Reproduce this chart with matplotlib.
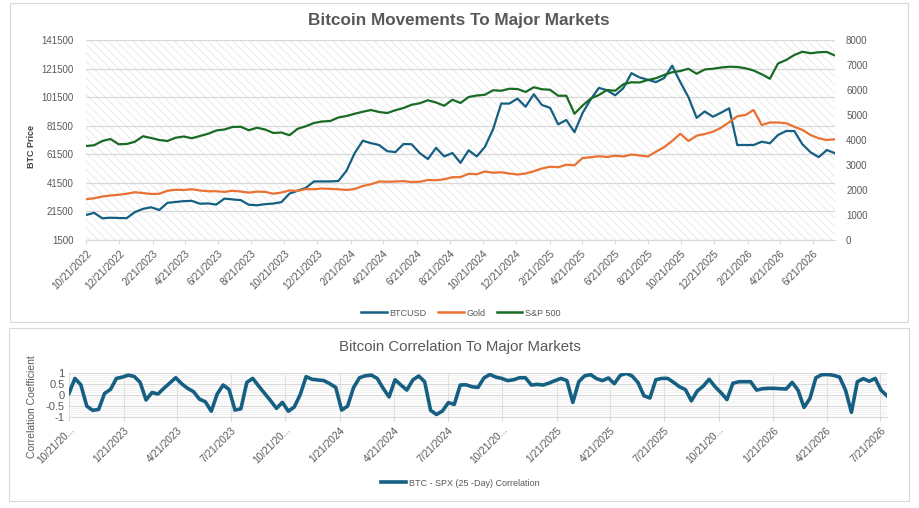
import matplotlib
matplotlib.use('Agg')
import matplotlib.pyplot as plt
from matplotlib.patches import Rectangle
from matplotlib.lines import Line2D
import pandas as pd

# ── Data (15-day steps from 10/21/2022) ──────────────────────────────────────
btc_usd = [19000, 20500, 16700, 17100, 16900, 16800, 21000, 23300, 24400, 22500,
           27500, 28100, 28700, 28900, 26900, 27100, 26300, 30500, 29900, 29400,
           26200, 25800, 26600, 27000, 28000, 34000, 36000, 38000, 42500, 42500,
           42500, 42800, 50000, 62300, 71000, 69300, 68000, 63700, 63000, 68700,
           68500, 62300, 58200, 66000, 60000, 62400, 55500, 64300, 60000, 66700,
           79000, 97000, 97000, 100500, 94800, 103500, 96000, 94000, 82500, 85500,
           77000, 90500, 100000, 108000, 106300, 102800, 107800, 118300, 115300, 113700,
           112000, 114800, 123500, 112000, 101500, 87000, 91500, 87800, 90600, 93700,
           68000, 68000, 68000, 70300, 69200, 75000, 77800, 77800, 68500, 62900,
           59500, 64500, 62200]

gold = [1630, 1670, 1740, 1780, 1810, 1850, 1910, 1880, 1840, 1850,
        1970, 2010, 2000, 2030, 1980, 1950, 1950, 1925, 1970, 1940,
        1895, 1935, 1925, 1850, 1900, 1980, 1965, 2035, 2030, 2060,
        2045, 2030, 2000, 2040, 2160, 2230, 2340, 2330, 2340, 2355,
        2320, 2330, 2400, 2390, 2430, 2510, 2515, 2650, 2630, 2740,
        2690, 2710, 2660, 2620, 2660, 2750, 2860, 2930, 2910, 3010,
        2990, 3280, 3310, 3350, 3320, 3370, 3340, 3420, 3380, 3340,
        3530, 3710, 3960, 4250, 3960, 4170, 4240, 4330, 4490, 4710,
        4950, 5000, 5200, 4600, 4700, 4700, 4670, 4530, 4400, 4200,
        4070, 4000, 4030]

sp500 = [3760, 3790, 3960, 4040, 3830, 3840, 3930, 4150, 4080, 4000,
         3960, 4090, 4140, 4070, 4160, 4250, 4380, 4420, 4520, 4530,
         4390, 4490, 4420, 4280, 4300, 4190, 4450, 4550, 4680, 4740,
         4760, 4900, 4960, 5050, 5130, 5200, 5120, 5080, 5190, 5280,
         5410, 5470, 5590, 5500, 5370, 5610, 5480, 5720, 5780, 5810,
         5990, 5970, 6050, 6040, 5920, 6110, 6030, 6010, 5770, 5770,
         5050, 5380, 5660, 5800, 6000, 5970, 6230, 6310, 6300, 6400,
         6470, 6600, 6710, 6760, 6850, 6650, 6820, 6850, 6900, 6930,
         6920, 6870, 6780, 6630, 6450, 7060, 7200, 7400, 7530, 7470,
         7510, 7520, 7380]

# 25-day rolling correlation BTC vs SPX, 10-day steps from 10/21/2022
btc_spx_corr = [0.06, 0.74, 0.45, -0.52, -0.71, -0.67, 0.06, 0.24, 0.74, 0.80,
                0.89, 0.83, 0.56, -0.24, 0.10, 0.03, 0.29, 0.53, 0.77, 0.50,
                0.29, 0.14, -0.20, -0.32, -0.75, 0.03, 0.44, 0.24, -0.70, -0.64,
                0.56, 0.74, 0.39, 0.06, -0.27, -0.62, -0.35, -0.75, -0.56, 0.00,
                0.82, 0.70, 0.67, 0.64, 0.50, 0.33, -0.70, -0.52, 0.32, 0.77,
                0.86, 0.89, 0.74, 0.29, -0.10, 0.68, 0.44, 0.21, 0.67, 0.85,
                0.59, -0.71, -0.90, -0.74, -0.36, -0.44, 0.44, 0.45, 0.36, 0.33,
                0.76, 0.92, 0.80, 0.74, 0.64, 0.68, 0.77, 0.77, 0.44, 0.47,
                0.44, 0.53, 0.64, 0.74, 0.64, -0.35, 0.59, 0.86, 0.91, 0.73,
                0.64, 0.76, 0.50, 0.88, 0.97, 0.85, 0.55, -0.05, -0.15, 0.68,
                0.74, 0.74, 0.56, 0.36, 0.23, -0.28, 0.17, 0.39, 0.70, 0.36,
                0.09, -0.22, 0.52, 0.59, 0.59, 0.59, 0.21, 0.27, 0.29, 0.29,
                0.27, 0.26, 0.56, 0.20, -0.58, -0.17, 0.77, 0.91, 0.92, 0.88,
                0.80, 0.21, -0.80, 0.59, 0.73, 0.61, 0.74, 0.20, -0.05]

price_dates = pd.date_range('2022-10-21', periods=len(btc_usd), freq='15D')
corr_dates = pd.date_range('2022-10-21', periods=len(btc_spx_corr), freq='10D')

price_ticks = pd.date_range('2022-10-21', '2026-06-21', freq=pd.DateOffset(months=2))
corr_ticks = pd.date_range('2022-10-21', '2026-07-21', freq=pd.DateOffset(months=3))
btc_ticks = list(range(1500, 141501, 20000))
index_ticks = list(range(0, 8001, 1000))
corr_yticks = [-1, -0.5, 0, 0.5, 1]

# ── Style ─────────────────────────────────────────────────────────────────────
COLORS = {
    'btc':   '#156082',
    'gold':  '#E97132',
    'spx':   '#196B24',
    'text':  '#595959',
    'grid':  '#D9D9D9',
    'minor': '#EFEFEF',
    'hatch': '#E2E2E2',
}

plt.rcParams.update({
    'font.family': ['Liberation Sans', 'DejaVu Sans'],
    'hatch.linewidth': 0.5,
    'text.color': COLORS['text'],
})

W, H = 919, 508
fig = plt.figure(figsize=(W / 100, H / 100), dpi=100)


def fx(px):
    return px / W


def fy(px):
    return 1 - px / H


def label_date(d):
    return f"{d.month}/{d.day}/{d.year}"


def style_xaxis(ax, ticks, labels, size):
    ax.set_xticks(ticks)
    ax.set_xticklabels(labels, rotation=45, ha='right', va='top',
                       rotation_mode='anchor', fontsize=size, color=COLORS['text'])
    ax.tick_params(axis='x', length=3, color=COLORS['grid'], pad=3)
    for side in ('top', 'left', 'right'):
        ax.spines[side].set_visible(False)
    ax.spines['bottom'].set_color(COLORS['grid'])
    ax.spines['bottom'].set_linewidth(0.8)


# chart frames
fig.add_artist(Rectangle((fx(10), fy(322)), fx(898), 319 / H, transform=fig.transFigure,
                         fill=False, edgecolor=COLORS['grid'], lw=0.8))
fig.add_artist(Rectangle((fx(9), fy(501)), fx(900), 173 / H, transform=fig.transFigure,
                         fill=False, edgecolor=COLORS['grid'], lw=0.8))

# ── Top chart: prices ─────────────────────────────────────────────────────────
ax = fig.add_axes([fx(86), fy(240), fx(835 - 86), (240 - 40) / H])
ax2 = ax.twinx()

ax.add_patch(Rectangle((0, 0), 1, 1, transform=ax.transAxes, facecolor='white',
                       edgecolor=COLORS['hatch'], hatch='\\\\\\\\', lw=0, zorder=0))
ax.set_axisbelow(True)
ax.grid(axis='y', color=COLORS['grid'], lw=0.9)

ax.plot(price_dates, btc_usd, color=COLORS['btc'], lw=1.6, zorder=3)
ax2.plot(price_dates, gold, color=COLORS['gold'], lw=1.6)
ax2.plot(price_dates, sp500, color=COLORS['spx'], lw=1.6)

ax.set_xlim(price_dates[0], price_dates[-1])
ax.set_ylim(1500, 141500)
ax2.set_ylim(0, 8000)
ax.set_yticks(btc_ticks)
ax.set_yticklabels([str(v) for v in btc_ticks], fontsize=7, color=COLORS['text'])
ax2.set_yticks(index_ticks)
ax2.set_yticklabels([str(v) for v in index_ticks], fontsize=7, color=COLORS['text'])
ax.tick_params(axis='y', length=0, pad=9)
ax2.tick_params(axis='y', length=0, pad=8)
style_xaxis(ax, price_ticks, [label_date(d) for d in price_ticks], 7.3)
for s in ax2.spines.values():
    s.set_visible(False)

fig.text(fx(459), fy(21), 'Bitcoin Movements To Major Markets', ha='center', va='center',
         fontsize=12.3, fontweight='bold', color=COLORS['text'])
fig.text(fx(32), fy(147), 'BTC Price', rotation=90, ha='center', va='center',
         fontsize=6.5, fontweight='bold', color='#404040')

handles = [Line2D([], [], color=COLORS['btc'], lw=1.8),
           Line2D([], [], color=COLORS['gold'], lw=1.8),
           Line2D([], [], color=COLORS['spx'], lw=1.8)]
fig.legend(handles, ['BTCUSD', 'Gold', 'S&P 500'], loc='center',
           bbox_to_anchor=(fx(461), fy(313)), ncol=3, frameon=False, fontsize=6.5,
           handlelength=2.8, handletextpad=0.3, columnspacing=1.3)

# ── Bottom chart: correlation ─────────────────────────────────────────────────
bx = fig.add_axes([fx(69), fy(416.7), fx(887 - 69), (416.7 - 372.7) / H])
bx.set_axisbelow(True)
bx.set_yticks([v / 10 for v in range(-10, 11)], minor=True)
bx.grid(axis='y', which='minor', color=COLORS['minor'], lw=0.6)
bx.grid(axis='y', which='major', color=COLORS['grid'], lw=0.8)
bx.grid(axis='x', which='major', color=COLORS['grid'], lw=0.8)
bx.plot(corr_dates, btc_spx_corr, color=COLORS['btc'], lw=2.6, solid_joinstyle='round')

bx.set_xlim(corr_dates[0], corr_dates[-1])
bx.set_ylim(-1, 1)
bx.set_yticks(corr_yticks)
bx.set_yticklabels(['-1', '-0.5', '0', '0.5', '1'], fontsize=8, color=COLORS['text'])
bx.tick_params(axis='y', which='both', length=0, pad=3)
corr_labels = []
for d in corr_ticks:
    s = label_date(d)
    corr_labels.append(s[:8] + '...' if len(s) > 9 else s)
style_xaxis(bx, corr_ticks, corr_labels, 7.3)

fig.text(fx(460), fy(347), 'Bitcoin Correlation To Major Markets', ha='center', va='center',
         fontsize=10.8, color=COLORS['text'])
fig.text(fx(32), fy(407), 'Correlation Coefficient', rotation=90, ha='center', va='center',
         fontsize=7.5, color=COLORS['text'])
fig.legend([Line2D([], [], color=COLORS['btc'], lw=2.6)],
           ['BTC - SPX (25 -Day) Correlation'], loc='center',
           bbox_to_anchor=(fx(460), fy(483)), frameon=False, fontsize=6.5,
           handlelength=2.8, handletextpad=0.3)

fig.savefig('out.png', dpi=100, facecolor='white')
